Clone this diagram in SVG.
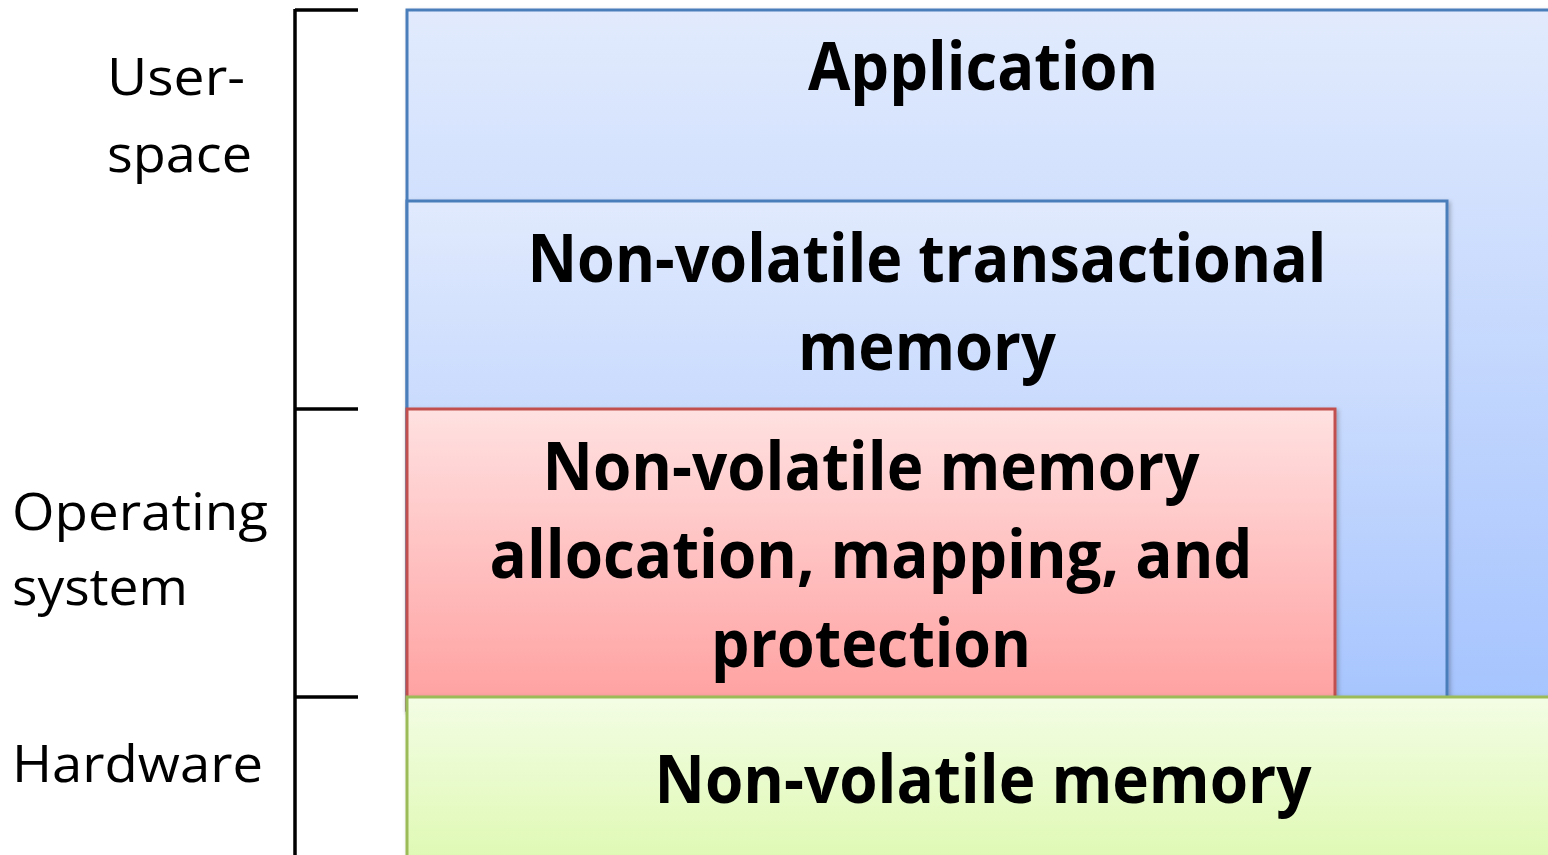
<svg xmlns="http://www.w3.org/2000/svg" width="1548" height="855" viewBox="0 0 1548 855">
  <style>
    .layer-title { font-family: "Open Sans", "Liberation Sans", sans-serif; font-weight: 700; font-size: 66px; fill: #000; text-anchor: middle; }
    .side-label { font-family: "Open Sans", "Liberation Sans", sans-serif; font-weight: 400; font-size: 52px; fill: #000; }
    .bracket { stroke: #000; stroke-width: 3.5; fill: none; }
    .box { stroke-width: 3; }
  </style>
  <defs>
    <linearGradient id="gradApp" gradientUnits="userSpaceOnUse" x1="0" y1="9" x2="0" y2="697">
      <stop offset="0" stop-color="#E2EBFD"/>
      <stop offset="1" stop-color="#A6C4FE"/>
    </linearGradient>
    <linearGradient id="gradTm" gradientUnits="userSpaceOnUse" x1="0" y1="201" x2="0" y2="697">
      <stop offset="0" stop-color="#E1EAFD"/>
      <stop offset="1" stop-color="#A7C5FE"/>
    </linearGradient>
    <linearGradient id="gradOs" gradientUnits="userSpaceOnUse" x1="0" y1="409" x2="0" y2="697">
      <stop offset="0" stop-color="#FFE1E1"/>
      <stop offset="1" stop-color="#FFA2A2"/>
    </linearGradient>
    <linearGradient id="gradHw" gradientUnits="userSpaceOnUse" x1="0" y1="697" x2="0" y2="900">
      <stop offset="0" stop-color="#F3FDE4"/>
      <stop offset="1" stop-color="#DAF8A8"/>
    </linearGradient>
    <filter id="shadow" x="-5%" y="-5%" width="110%" height="110%">
      <feDropShadow dx="2" dy="2" stdDeviation="2" flood-color="#000" flood-opacity="0.25"/>
    </filter>
  </defs>

  <!-- bracket on the left separating the layers -->
  <g id="bracket">
    <line class="bracket" x1="295" y1="9" x2="295" y2="855"/>
    <line class="bracket" x1="295" y1="10" x2="358" y2="10"/>
    <line class="bracket" x1="295" y1="409" x2="358" y2="409"/>
    <line class="bracket" x1="295" y1="697" x2="358" y2="697"/>
  </g>

  <g id="label-userspace">
    <text class="side-label" x="107" y="95" textLength="138" lengthAdjust="spacingAndGlyphs">User-</text>
    <text class="side-label" x="107" y="172" textLength="145" lengthAdjust="spacingAndGlyphs">space</text>
  </g>
  <g id="label-os">
    <text class="side-label" x="12" y="530" textLength="256" lengthAdjust="spacingAndGlyphs">Operating</text>
    <text class="side-label" x="12" y="605" textLength="176" lengthAdjust="spacingAndGlyphs">system</text>
  </g>
  <g id="label-hw">
    <text class="side-label" x="12" y="782" textLength="251" lengthAdjust="spacingAndGlyphs">Hardware</text>
  </g>

  <g id="application">
    <rect class="box" x="407" y="10" width="1160" height="700" fill="url(#gradApp)" stroke="#4A7EBB" filter="url(#shadow)"/>
    <text class="layer-title" x="983" y="90" textLength="350" lengthAdjust="spacingAndGlyphs">Application</text>
  </g>

  <g id="transactional-memory">
    <rect class="box" x="407" y="201" width="1040" height="509" fill="url(#gradTm)" stroke="#4A7EBB" filter="url(#shadow)"/>
    <text class="layer-title" x="927" y="282" textLength="799" lengthAdjust="spacingAndGlyphs">Non-volatile transactional</text>
    <text class="layer-title" x="927" y="370" textLength="258" lengthAdjust="spacingAndGlyphs">memory</text>
  </g>

  <g id="nvm-allocation">
    <rect class="box" x="407" y="409" width="928" height="301" fill="url(#gradOs)" stroke="#C0504D" filter="url(#shadow)"/>
    <text class="layer-title" x="871" y="490" textLength="657" lengthAdjust="spacingAndGlyphs">Non-volatile memory</text>
    <text class="layer-title" x="871" y="578" textLength="763" lengthAdjust="spacingAndGlyphs">allocation, mapping, and</text>
    <text class="layer-title" x="871" y="667" textLength="320" lengthAdjust="spacingAndGlyphs">protection</text>
  </g>

  <g id="nvm-hardware">
    <rect class="box" x="407" y="697" width="1160" height="200" fill="url(#gradHw)" stroke="#9BBB59" filter="url(#shadow)"/>
    <text class="layer-title" x="983" y="803" textLength="657" lengthAdjust="spacingAndGlyphs">Non-volatile memory</text>
  </g>
</svg>
